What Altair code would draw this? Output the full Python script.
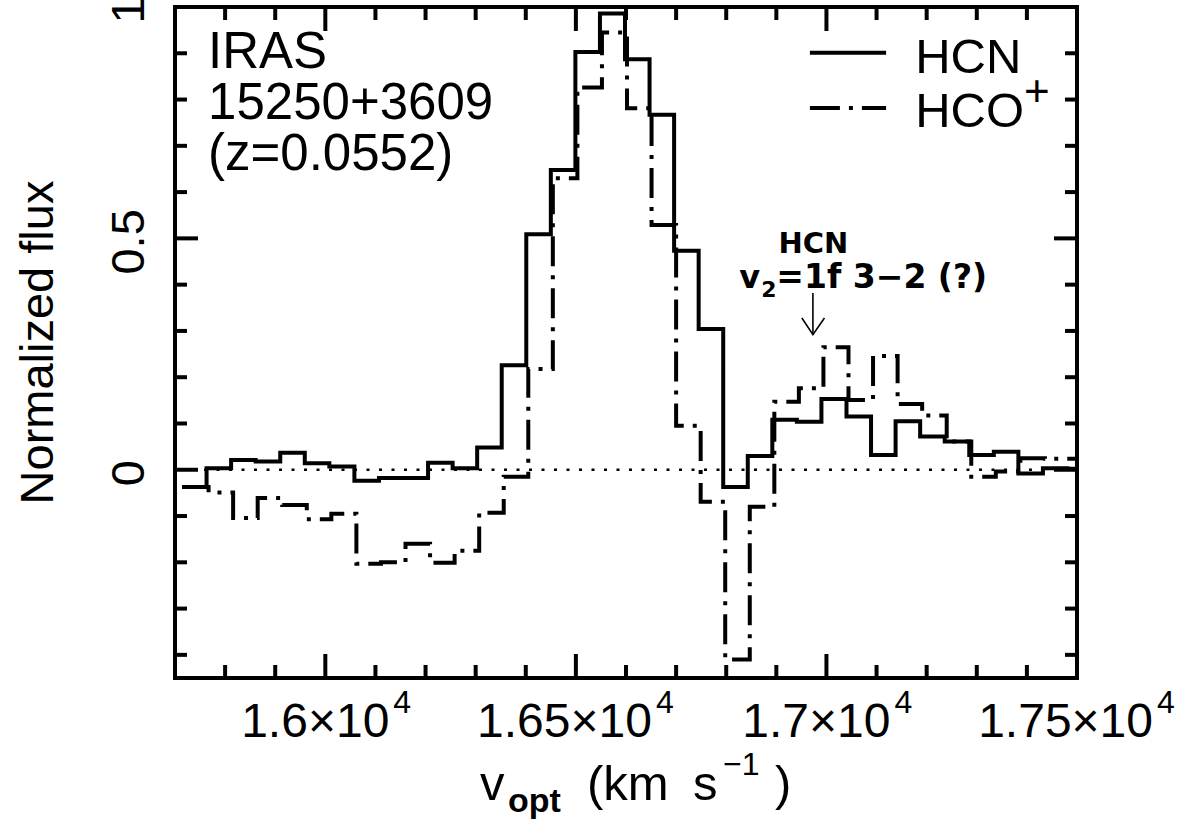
import altair as alt
import pandas as pd

# ---- data ----
hcn_edges = [15714, 15763, 15812, 15861, 15910, 15959, 16008, 16058, 16107, 16156,
             16205, 16254, 16303, 16352, 16401, 16450, 16499, 16548, 16598, 16647,
             16696, 16745, 16794, 16843, 16892, 16941, 16990, 17040, 17089, 17138,
             17187, 17236, 17285, 17334, 17383, 17432, 17481, 17530]
hcn_flux = [-0.037, 0.003, 0.021, 0.018, 0.037, 0.014, 0.007, -0.024, -0.018, -0.018,
            0.015, 0.003, 0.048, 0.226, 0.509, 0.648, 0.903, 0.986, 0.887, 0.767,
            0.473, 0.304, -0.037, 0.030, 0.108, 0.104, 0.153, 0.115, 0.032, 0.105,
            0.072, 0.061, 0.032, 0.039, -0.008, 0.003, 0.002]
hcop_edges = [15718, 15767, 15816, 15865, 15914, 15963, 16012, 16062, 16111, 16160,
              16209, 16258, 16307, 16356, 16405, 16454, 16503, 16552, 16602, 16651,
              16700, 16749, 16798, 16847, 16896, 16945, 16994, 17044, 17093, 17142,
              17191, 17240, 17289, 17338, 17387, 17436, 17485, 17534]
hcop_flux = [-0.037, -0.049, -0.104, -0.061, -0.076, -0.107, -0.095, -0.203, -0.200, -0.160,
             -0.201, -0.175, -0.093, -0.015, 0.218, 0.630, 0.826, 0.945, 0.781, 0.529,
             0.095, -0.069, -0.410, -0.080, 0.147, 0.176, 0.265, 0.151, 0.246, 0.142,
             0.117, 0.061, -0.015, -0.004, 0.025, 0.024, 0.024]

x_minor = [15800, 15900, 16100, 16200, 16300, 16400, 16600, 16700, 16800, 16900,
           17100, 17200, 17300, 17400]
x_major = [16000, 16500, 17000]
y_minor = [-0.4, -0.3, -0.2, -0.1, 0.1, 0.2, 0.3, 0.4, 0.6, 0.7, 0.8, 0.9]
y_major = [0, 0.5]
x_label_values = [16000, 16500, 17000, 17500]
x_label_mantissa = ["1.6×10", "1.65×10", "1.7×10", "1.75×10"]
x_label_exponent = ["4", "4", "4", "4"]
y_label_values = [0, 0.5, 1]

iras_lines = ["IRAS", "15250+3609", "(z=0.0552)"]
legend_names = ["HCN", "HCO"]

W, H = 902, 671
FONT = "Liberation Sans"

xs = alt.Scale(domain=[15700, 17500], nice=False, zero=False)
ys = alt.Scale(domain=[-0.45, 1.0], nice=False, zero=False)


def steps(edges, flux):
    n = len(flux)
    return pd.DataFrame({"v": edges[: n + 1],
                         "y": [flux[min(i, n - 1)] for i in range(n + 1)]})


y_axis = alt.Axis(values=y_label_values, format="~g", labelAngle=270, labelAlign="center",
                  labelBaseline="alphabetic", labelPadding=32, labelFontSize=47,
                  labelFont=FONT, labelColor="black", ticks=False, tickSize=0,
                  labelOffset=3,
                  domain=False, grid=False, labelFlush=False, labelOverlap=False,
                  title="Normalized flux", titleFont=FONT, titleFontSize=47,
                  titleFontWeight="normal", titleColor="black", titleAngle=270,
                  titleX=-123, titleY=335, titleAlign="center",
                  titleBaseline="alphabetic")

X = lambda: alt.X("v:Q", scale=xs, axis=None)
Y = lambda: alt.Y("y:Q", scale=ys)

hcn = alt.Chart(steps(hcn_edges, hcn_flux)).mark_line(
    interpolate="step-after", color="black", strokeWidth=4, clip=True
).encode(x=X(), y=alt.Y("y:Q", scale=ys, axis=y_axis))

hcop = alt.Chart(steps(hcop_edges, hcop_flux)).mark_line(
    interpolate="step-after", color="black", strokeWidth=4, clip=True,
    strokeDash=[30, 9, 4, 9]
).encode(x=X(), y=Y())

zero = alt.Chart(pd.DataFrame({"y": [0]})).mark_rule(
    color="black", strokeWidth=2.5, strokeDash=[3, 9.5]
).encode(y=Y(), x=alt.value(4), x2=alt.value(W - 4))

# inward ticks on all four sides
tk = dict(color="black", strokeWidth=4)
ticks = []
for vals, ln in [(x_minor, 13), (x_major, 24)]:
    d = pd.DataFrame({"v": vals})
    ticks.append(alt.Chart(d).mark_rule(**tk).encode(x=X(), y=alt.value(H), y2=alt.value(H - ln)))
    ticks.append(alt.Chart(d).mark_rule(**tk).encode(x=X(), y=alt.value(0), y2=alt.value(ln)))
for vals, ln in [(y_minor, 12), (y_major, 23)]:
    d = pd.DataFrame({"y": vals})
    ticks.append(alt.Chart(d).mark_rule(**tk).encode(y=Y(), x=alt.value(0), x2=alt.value(ln)))
    ticks.append(alt.Chart(d).mark_rule(**tk).encode(y=Y(), x=alt.value(W), x2=alt.value(W - ln)))

# x tick labels: mantissa + raised exponent, centred as a whole on the tick
xlab = pd.DataFrame({"v": x_label_values, "m": x_label_mantissa, "e": x_label_exponent})
xlab["long"] = xlab["m"].str.len() > 6
xlabels = []
for is_long, shift in [(False, 64), (True, 76)]:
    sub = xlab[xlab["long"] == is_long]
    xlabels.append(alt.Chart(sub).mark_text(
        font=FONT, fontSize=48, align="right", baseline="alphabetic", color="black", dx=shift
    ).encode(x=X(), y=alt.value(730), text="m:N"))
    xlabels.append(alt.Chart(sub).mark_text(
        font=FONT, fontSize=32, align="left", baseline="alphabetic", color="black", dx=shift + 4
    ).encode(x=X(), y=alt.value(706), text="e:N"))

# IRAS label
iras = alt.Chart(pd.DataFrame({"v": [15766] * 3, "y": [0.868, 0.758, 0.648],
                               "t": iras_lines})).mark_text(
    font=FONT, fontSize=51, align="left", baseline="alphabetic", color="black"
).encode(x=X(), y=Y(), text="t:N")

# legend
leg_hcn = alt.Chart(pd.DataFrame({"v": [16967, 17119], "y": [0.901, 0.901]})).mark_line(
    color="black", strokeWidth=4).encode(x=X(), y=Y())
leg_hcop = alt.Chart(pd.DataFrame({"v": [16967, 17119], "y": [0.782, 0.782]})).mark_line(
    color="black", strokeWidth=4, strokeDash=[30, 9, 4, 9]).encode(x=X(), y=Y())
leg_txt = alt.Chart(pd.DataFrame({"v": [17177, 17177], "y": [0.857, 0.740],
                                  "t": legend_names})).mark_text(
    font=FONT, fontSize=49, align="left", baseline="alphabetic", color="black"
).encode(x=X(), y=Y(), text="t:N")
leg_plus = alt.Chart(pd.DataFrame({"v": [17394], "y": [0.786], "t": ["+"]})).mark_text(
    font=FONT, fontSize=44, align="left", baseline="alphabetic", color="black"
).encode(x=X(), y=Y(), text="t:N")

# HCN v2=1f annotation
ann_font = "DejaVu Sans"
ann1 = alt.Chart(pd.DataFrame({"v": [16974], "y": [0.468], "t": ["HCN"]})).mark_text(
    font=ann_font, fontSize=29, fontWeight="bold", align="center", baseline="alphabetic",
    color="black").encode(x=X(), y=Y(), text="t:N")
ann2 = alt.Chart(pd.DataFrame({"v": [16826], "y": [0.393], "t": ["v"]})).mark_text(
    font=ann_font, fontSize=32, fontWeight="bold", align="left", baseline="alphabetic",
    color="black").encode(x=X(), y=Y(), text="t:N")
ann3 = alt.Chart(pd.DataFrame({"v": [16870], "y": [0.373], "t": ["2"]})).mark_text(
    font=ann_font, fontSize=22, fontWeight="bold", align="left", baseline="alphabetic",
    color="black").encode(x=X(), y=Y(), text="t:N")
ann4 = alt.Chart(pd.DataFrame({"v": [16900], "y": [0.393], "t": ["=1f 3−2 (?)"]})).mark_text(
    font=ann_font, fontSize=33, fontWeight="bold", align="left", baseline="alphabetic",
    color="black").encode(x=X(), y=Y(), text="t:N")
shaft = alt.Chart(pd.DataFrame({"v": [16973, 16973], "y": [0.382, 0.292]})).mark_line(
    color="black", strokeWidth=1.6).encode(x=X(), y=Y())
head = alt.Chart(pd.DataFrame({"v": [16951, 16973, 16996], "y": [0.328, 0.292, 0.328]})).mark_line(
    color="black", strokeWidth=1.6).encode(x=X(), y=Y())

# x-axis title with subscript / superscript pieces
def ptext(t, px, py, size, weight="normal"):
    return alt.Chart(pd.DataFrame({"t": [t]})).mark_text(
        font=FONT, fontSize=size, fontWeight=weight, align="left", baseline="alphabetic",
        color="black").encode(x=alt.value(px), y=alt.value(py), text="t:N")

xtitle = [
    ptext("v", 305, 793, 49),
    ptext("opt", 333, 805, 34, "bold"),
    ptext("(km", 412, 793, 49),
    ptext("s", 518, 793, 49),
    ptext("−1", 548, 768, 32),
    ptext(")", 600, 793, 49),
]

chart = alt.layer(
    hcn, zero, hcop, *ticks, *xlabels, iras, leg_hcn, leg_hcop, leg_txt, leg_plus,
    ann1, ann2, ann3, ann4, shaft, head, *xtitle
).properties(
    width=W, height=H,
    padding={"left": 175, "top": 7, "right": 126, "bottom": 143},
    autosize=alt.AutoSizeParams(type="none"),
    background="white",
).configure_view(stroke="black", strokeWidth=4)

chart.save("out.html", embed_options={"renderer": "svg", "actions": False})
